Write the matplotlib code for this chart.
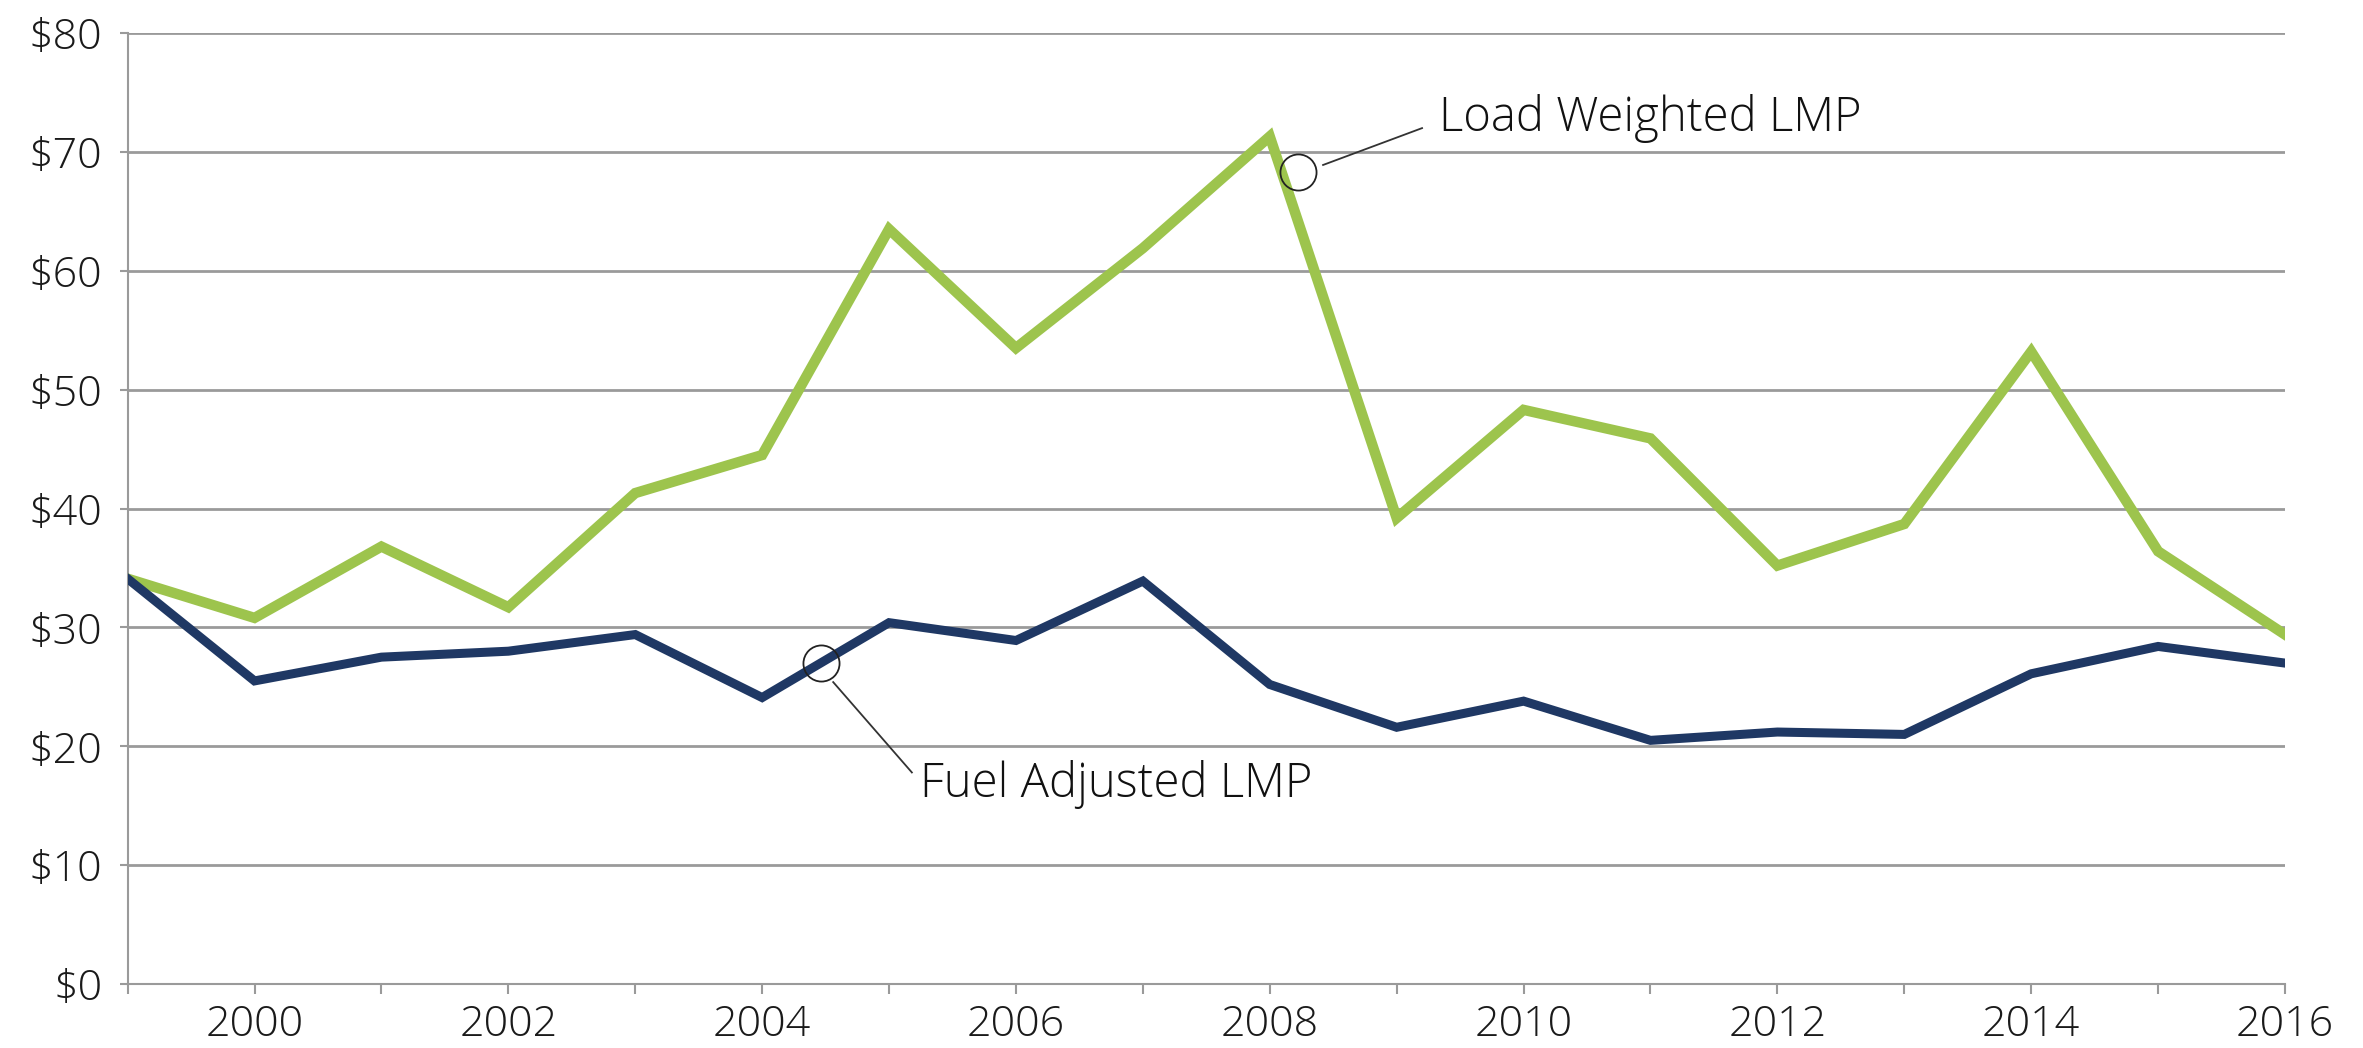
import numpy as np
import matplotlib
matplotlib.use("Agg")
from matplotlib import pyplot as plt
from matplotlib.ticker import MultipleLocator, FuncFormatter

# values
years = list(range(1999, 2017))
load_weighted = [34.1, 30.8, 36.8, 31.7, 41.3, 44.5, 63.5, 53.5, 61.9, 71.3,
                 39.2, 48.3, 45.9, 35.2, 38.7, 53.2, 36.4, 29.4]
fuel_adjusted = [34.1, 25.5, 27.5, 28.0, 29.4, 24.1, 30.4, 28.9, 33.9, 25.2,
                 21.6, 23.8, 20.5, 21.2, 21.0, 26.1, 28.4, 27.0]

green = '#9DC44D'
navy = '#1F3864'
grey = '#9a9a9a'

plt.rcParams['font.family'] = ['Open Sans', 'DejaVu Sans']

fig = plt.figure(figsize=(23.63, 10.48), dpi=100)
ax = fig.add_axes([0.054, 0.061, 0.913, 0.9075])

ax.plot(years, load_weighted, color=green, lw=7.5, solid_joinstyle='miter', zorder=3)
ax.plot(years, fuel_adjusted, color=navy, lw=6.5, solid_joinstyle='miter', zorder=3)

ax.set_xlim(1999, 2016)
ax.set_ylim(0, 80)

ax.yaxis.set_major_locator(MultipleLocator(10))
ax.yaxis.set_major_formatter(FuncFormatter(lambda v, p: f'${v:.0f}'))
ax.xaxis.set_major_locator(MultipleLocator(2))
ax.xaxis.set_minor_locator(MultipleLocator(1))
ax.xaxis.set_major_formatter(FuncFormatter(lambda v, p: f'{v:.0f}' if v > 1999 else ''))

ax.grid(axis='y', color=grey, lw=2, zorder=1)
for s in ['top', 'right']:
    ax.spines[s].set_visible(False)
for s in ['left', 'bottom']:
    ax.spines[s].set_color(grey)
    ax.spines[s].set_linewidth(1.5)

ax.tick_params(axis='y', length=6, width=1.5, color=grey, pad=12, labelsize=31, labelcolor='#1a1a1a')
ax.tick_params(axis='x', which='both', length=7, width=1.5, color=grey, pad=7, labelsize=31, labelcolor='#1a1a1a')
for lab in ax.get_xticklabels() + ax.get_yticklabels():
    lab.set_fontweight('light')

# callouts
ax.plot([2008.22], [68.3], marker='o', ms=26, mfc='none', mec='#222222', mew=1.3, zorder=4)
ax.plot([2008.42, 2009.2], [68.9, 72.0], color='#333333', lw=1.3, zorder=4)
ax.text(2009.33, 72.8, 'Load Weighted LMP', fontsize=34, fontweight='light',
        va='center', ha='left', color='#111111')

ax.plot([2004.46], [27.0], marker='o', ms=26, mfc='none', mec='#222222', mew=1.3, zorder=4)
ax.plot([2004.56, 2005.18], [25.4, 17.8], color='#333333', lw=1.3, zorder=4)
ax.text(2005.24, 16.8, 'Fuel Adjusted LMP', fontsize=34, fontweight='light',
        va='center', ha='left', color='#111111')

fig.savefig('out.png', dpi=100, facecolor='white')
